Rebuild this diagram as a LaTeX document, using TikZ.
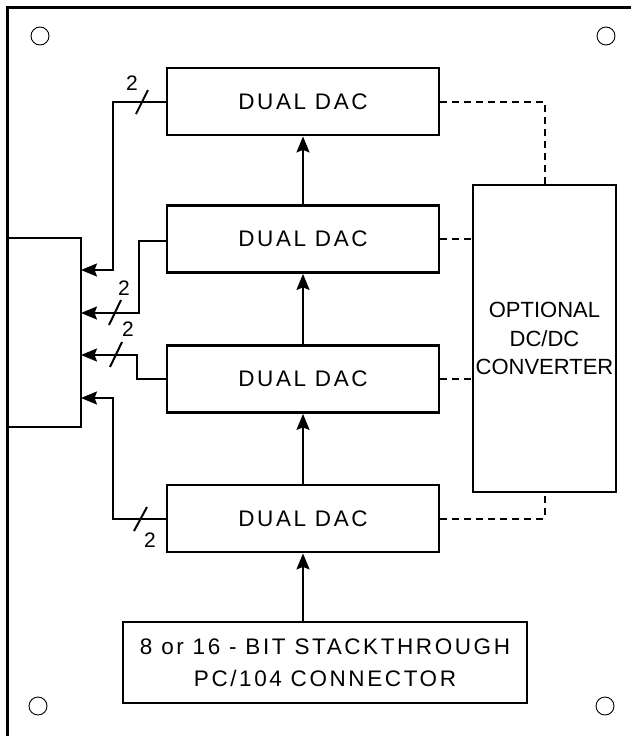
\documentclass[tikz,border=0pt]{standalone}
\usepackage{fontspec}
\setmainfont{Liberation Sans}
\newfontfamily\spacedfont{Liberation Sans}[LetterSpace=11.5]
\usetikzlibrary{arrows.meta,calc}

\begin{document}
\begin{tikzpicture}[x=1pt,y=-1pt,
  box/.style={draw, line width=2.8pt, rectangle, inner sep=0pt},
  dacbox/.style={box, minimum width=272pt, minimum height=67pt,
    font=\spacedfont\fontsize{22.5}{26}\selectfont},
  wire/.style={line width=2pt},
  arr/.style={wire, -{Stealth[length=16pt,width=13pt,inset=2.5pt]}},
  dashwire/.style={line width=2pt, dash pattern=on 7pt off 5pt},
  buslabel/.style={inner sep=0pt, font=\fontsize{21}{22}\selectfont},
  hole/.style={draw, line width=0.9pt, circle, minimum size=18pt, inner sep=0pt}
]
\useasboundingbox (0,0) rectangle (631,736);

% board outline
\draw[line width=3pt] (7,7) rectangle (637,741);

% mounting holes
\node[hole] (h1) at (40,36) {};
\node[hole] (h2) at (606,36) {};
\node[hole] (h3) at (38,706) {};
\node[hole] (h4) at (605,706) {};

% converter channels
\node[dacbox] (dac1) at (303,101.5) {DUAL DAC};
\node[dacbox] (dac2) at (303,239) {DUAL DAC};
\node[dacbox] (dac3) at (303,379) {DUAL DAC};
\node[dacbox] (dac4) at (303,518.5) {DUAL DAC};

% power supply
\node[box, minimum width=143pt, minimum height=307pt, align=center,
  font=\fontsize{22}{28.5}\selectfont] (conv) at (544.5,338.5)
  {OPTIONAL\\DC/DC\\CONVERTER};

% bus connector
\node[box, minimum width=404pt, minimum height=81pt, align=center,
  font=\spacedfont\fontsize{22.5}{32}\selectfont] (conn) at (325,662.5)
  {8 or 16 - BIT STACKTHROUGH\\PC/104 CONNECTOR};

% output header
\node[box, minimum width=74pt, minimum height=189pt] (hdr) at (44,332.5) {};

% data path up the stack
\draw[arr] (conn.north -| dac4.south) -- (dac4.south);
\draw[arr] (dac4.north) -- (dac3.south);
\draw[arr] (dac3.north) -- (dac2.south);
\draw[arr] (dac2.north) -- (dac1.south);

% analog outputs to the header
\coordinate (in1) at (81,270);
\coordinate (in2) at (81,313);
\coordinate (in3) at (81,355);
\coordinate (in4) at (81,398);
\coordinate (b1) at (113,0);
\coordinate (b2) at (139,0);
\coordinate (b3) at (137,0);
\coordinate (b4) at (113,0);
\draw[arr] (dac1.west) -- (dac1.west -| b1) |- (in1);
\draw[arr] ($(dac2.west)+(0,2)$) -- ($(dac2.west -| b2)+(0,2)$) |- (in2);
\draw[arr] (dac3.west) -- (dac3.west -| b3) |- (in3);
\draw[arr] (dac4.west) -- (dac4.west -| b4) |- (in4);

% bus width marks
\draw[wire] (136,114) -- (148,90);
\node[buslabel] (w1) at (132,83) {2};
\draw[wire] (109,325) -- (121,300);
\node[buslabel] (w2) at (124,288) {2};
\draw[wire] (110,367) -- (122,342);
\node[buslabel] (w3) at (128,329) {2};
\draw[wire] (134,531) -- (147,507);
\node[buslabel] (w4) at (150,540) {2};

% supply connections
\draw[dashwire] (dac1.east) -| (conv.north);
\draw[dashwire] (dac2.east) -- (dac2.east -| conv.west);
\draw[dashwire] (dac3.east) -- (dac3.east -| conv.west);
\draw[dashwire] (dac4.east) -| (conv.south);
\end{tikzpicture}
\end{document}
